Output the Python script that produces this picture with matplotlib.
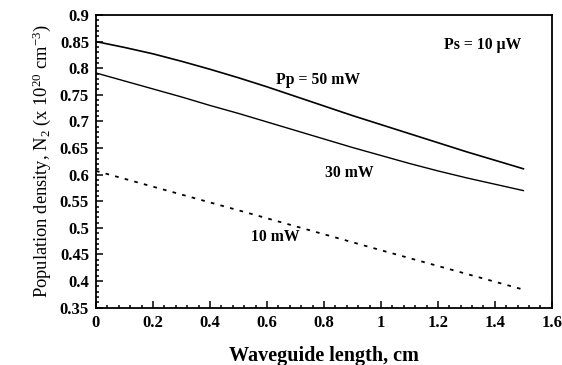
import matplotlib
matplotlib.use("Agg")
import matplotlib.pyplot as plt
from matplotlib.ticker import MultipleLocator, FuncFormatter

x_50 = [0.0, 0.1, 0.2, 0.3, 0.4, 0.5, 0.6, 0.7, 0.8, 0.9, 1.0, 1.1, 1.2, 1.3, 1.4, 1.5]
n_50 = [0.850, 0.839, 0.827, 0.813, 0.798, 0.782, 0.765, 0.747, 0.729, 0.711,
        0.694, 0.677, 0.660, 0.643, 0.627, 0.611]
x_30 = [0.0, 0.1, 0.2, 0.3, 0.4, 0.5, 0.6, 0.7, 0.8, 0.9, 1.0, 1.1, 1.2, 1.3, 1.4, 1.5]
n_30 = [0.791, 0.776, 0.761, 0.746, 0.730, 0.715, 0.699, 0.683, 0.667, 0.651,
        0.636, 0.621, 0.607, 0.594, 0.582, 0.570]
x_10 = [0.0, 0.5, 1.0, 1.5]
n_10 = [0.607, 0.533, 0.458, 0.384]

labels = ["Pp = 50 mW", "30 mW", "10 mW", "Ps = 10 \u03bcW"]

plt.rcParams['font.family'] = ['Liberation Serif', 'DejaVu Serif']
plt.rcParams['mathtext.fontset'] = 'custom'
plt.rcParams['mathtext.rm'] = 'Liberation Serif'
plt.rcParams['mathtext.it'] = 'Liberation Serif:italic'

fig = plt.figure(figsize=(5.62, 3.65), dpi=100)
ax = fig.add_axes([0.1708, 0.157, 0.8112, 0.802])

ax.plot(x_50, n_50, color='black', lw=1.2)
ax.plot(x_30, n_30, color='black', lw=1.0)
ax.plot(x_10, n_10, color='black', lw=1.3, linestyle=(0, (2, 3.5)))

ax.set_xlim(0, 1.6)
ax.set_ylim(0.35, 0.9)
ax.xaxis.set_major_locator(MultipleLocator(0.2))
ax.xaxis.set_minor_locator(MultipleLocator(0.04))
ax.yaxis.set_major_locator(MultipleLocator(0.05))
ax.yaxis.set_minor_locator(MultipleLocator(0.01))

def fmt(v, pos):
    s = ('%.2f' % v).rstrip('0').rstrip('.')
    return s
ax.xaxis.set_major_formatter(FuncFormatter(fmt))
ax.yaxis.set_major_formatter(FuncFormatter(fmt))

ax.tick_params(which='both', direction='in', top=False, right=False, width=1.1)
ax.tick_params(which='major', length=5, labelsize=12, pad=5)
ax.tick_params(which='minor', length=2.5)
for lab in ax.get_xticklabels() + ax.get_yticklabels():
    lab.set_fontweight('bold')
for sp in ax.spines.values():
    sp.set_linewidth(1.3)

ax.set_xlabel("Waveguide length, cm", fontsize=14.5, fontweight='bold', labelpad=11)
ax.set_ylabel("Population density, N$_2$ (x 10$^{20}$ cm$^{-3}$)", fontsize=13.3, labelpad=5)

ax.text(0.778, 0.778, labels[0], fontsize=11.3, fontweight='bold', ha='center', va='center')
ax.text(0.89, 0.603, labels[1], fontsize=11.3, fontweight='bold', ha='center', va='center')
ax.text(0.63, 0.483, labels[2], fontsize=11.3, fontweight='bold', ha='center', va='center')
ax.text(1.357, 0.844, labels[3], fontsize=11.3, fontweight='bold', ha='center', va='center')

fig.savefig("out.png", dpi=100)
